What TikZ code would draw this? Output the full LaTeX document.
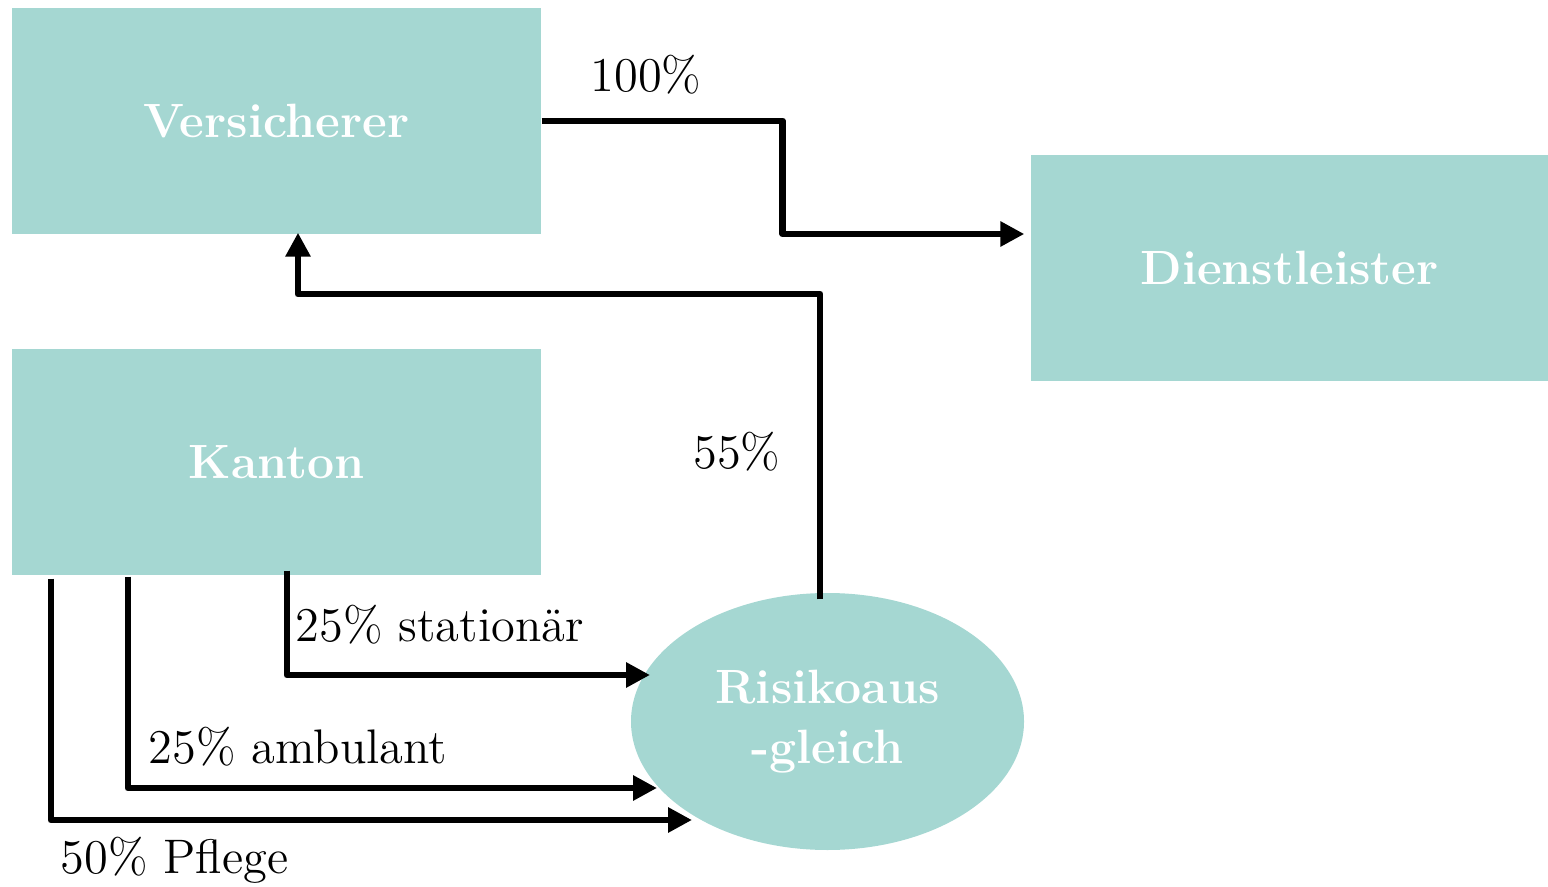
\documentclass[tikz,border=0pt]{standalone}
\usepackage{fontspec}
\usetikzlibrary{arrows.meta,positioning,calc,shapes.geometric}
\definecolor{teal1}{RGB}{165,215,210}
\tikzset{
  box/.style={fill=teal1, text=white, align=center, minimum width=52.9mm, minimum height=22.6mm, inner sep=0pt, font=\fontsize{13.7}{17}\selectfont\bfseries},
  bubble/.style={box, ellipse, minimum width=39.3mm, minimum height=25.7mm},
  arrow/.style={-{Triangle[length=2.4mm, width=2.4mm]}, line width=1.9pt, line join=round},
  lbl/.style={font=\fontsize{13.8}{17}\selectfont, inner sep=0pt},
}

\begin{document}
\begin{tikzpicture}
  \useasboundingbox (0,0) rectangle (15.48,8.86);
  % Boxes
  \node[box] (vers) at (2.765,7.65) {Versicherer};
  \node[box, minimum width=51.7mm] (dienst) at (12.895,6.18) {Dienstleister};
  \node[box] (kanton) at (2.765,4.24) {Kanton};
  \node[bubble] (risk) at (8.275,1.645) {Risikoaus\\-gleich};

  % Arrows
  \draw[arrow] (vers.east) -- ++(2.41,0) |- ($(dienst.west)+(-0.06,0.34)$);
  \draw[arrow] ($(risk.north)+(-0.075,-0.07)$) |- (2.98,5.92) -- ($(vers.south)+(0.215,0.02)$);
  \draw[arrow] ($(kanton.south)+(0.105,0.05)$) |- (6.50,2.11);
  \draw[arrow] ($(kanton.south)+(-1.485,-0.01)$) |- (6.57,0.98);
  \draw[arrow] ($(kanton.south)+(-2.255,-0.03)$) |- (6.92,0.66);

  % Labels
  \node[lbl] (l100) at (6.46,8.11) {100\%};
  \node[lbl] (l55) at (7.37,4.34) {55\%};
  \node[lbl, anchor=west] (lstat) at (2.95,2.61) {25\% stationär};
  \node[lbl, anchor=west] (lamb) at (1.48,1.39) {25\% ambulant};
  \node[lbl, anchor=west] (lpfl) at (0.60,0.26) {50\% Pflege};
\end{tikzpicture}
\end{document}
